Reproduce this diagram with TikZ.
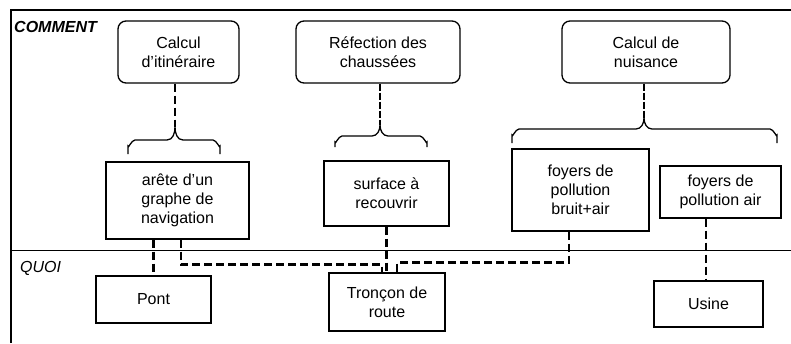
\documentclass[tikz,border=0pt]{standalone}
\usepackage{fontspec}
\setmainfont{Liberation Sans}
\usetikzlibrary{calc}
\tikzset{
  txt/.style={font=\fontsize{16}{19}\selectfont, align=center, inner sep=0pt},
  rbox/.style={txt, draw, line width=1.3pt, rounded corners=8pt},
  sbox/.style={txt, draw, line width=1.3pt},
  frameline/.style={line width=1.2pt},
  conn/.style={line width=2.6pt, dash pattern=on 8pt off 4pt},
  thinconn/.style={line width=1.2pt, dash pattern=on 8pt off 4pt},
  midconn/.style={line width=2.2pt, dash pattern=on 7pt off 2pt},
  bracestyle/.style={line width=1.3pt},
  lbl/.style={font=\fontsize{16}{18}\selectfont\itshape, inner sep=0pt, anchor=west}
}
\newcommand\mybrace[6]{% left, right, tipx, tipy, bary, endy
  \draw[bracestyle] (#1,#6) -- (#1,#5+6) to[out=-90,in=180] (#1+7,#5) -- (#3-8,#5)
    to[out=0,in=-90] (#3,#4) to[out=-90,in=180] (#3+8,#5) -- (#2-7,#5)
    to[out=0,in=-90] (#2,#5+6) -- (#2,#6);
}
\begin{document}
\begin{tikzpicture}[x=1pt,y=-1pt]
\useasboundingbox (0,0) rectangle (791,343);
% frame
\coordinate (fTL) at (11,10);
\coordinate (fBL) at (11,343);
\coordinate (fTR) at (791,10);
\coordinate (mL) at (11,250);
\coordinate (mR) at (791,250);
\draw[frameline] (fBL) -- (fTL) -- (fTR);
\draw[line width=1pt] (mL) -- (mR);
\node[lbl, font=\fontsize{16}{18}\selectfont\bfseries\itshape] (comment) at (14,27) {COMMENT};
\node[lbl] (quoi) at (20,268) {QUOI};
% top rounded boxes
\node[rbox, minimum width=121, minimum height=62] (itin) at (178.5,52) {Calcul\\d'itinéraire};
\node[rbox, minimum width=164, minimum height=62] (refect) at (378,52) {Réfection des\\chaussées};
\node[rbox, minimum width=168, minimum height=62] (nuis) at (646,52) {Calcul de\\nuisance};
% middle boxes
\node[sbox, minimum width=143, minimum height=77] (arete) at (177.5,200.5) {arête d'un\\graphe de\\navigation};
\node[sbox, minimum width=125, minimum height=65] (surface) at (386.5,193.5) {surface à\\recouvrir};
\node[sbox, minimum width=137, minimum height=82] (bruit) at (580.5,190) {foyers de\\pollution\\bruit+air};
\node[sbox, minimum width=121, minimum height=52] (air) at (720.5,192) {foyers de\\pollution air};
% bottom boxes
\node[sbox, minimum width=115, minimum height=47] (pont) at (153.5,299.5) {Pont};
\node[sbox, minimum width=116, minimum height=58] (troncon) at (387,302) {Tronçon de\\route};
\node[sbox, minimum width=109, minimum height=46] (usine) at (708.5,304) {Usine};
% braces
\coordinate (tip1) at (175,127);
\coordinate (tip2) at (380,125);
\coordinate (tip3) at (644,118);
\mybrace{128}{220}{175}{127}{140}{154}
\mybrace{335}{427}{380}{125}{136}{147}
\mybrace{512}{777}{644}{118}{129}{143}
\draw[thinconn] (itin.south -| tip1) -- (tip1);
\draw[midconn] (refect.south -| tip2) -- (tip2);
\draw[midconn] (nuis.south -| tip3) -- (tip3);
% connectors
\draw[conn] (pont.north |- arete.south) -- (pont.north);
\draw[conn] ([xshift=3.5pt]arete.south) -- ++(0,25) -| ([xshift=-5pt]troncon.north);
\draw[conn] (surface.south) -- (surface.south |- troncon.north);
\draw[conn] ([xshift=-11.5pt]bruit.south) -- ++(0,31) -| ([xshift=10pt]troncon.north);
\coordinate (uc) at ([xshift=-2.5pt]usine.north);
\draw[conn] (air.south -| uc) -- (uc);
\end{tikzpicture}
\end{document}
